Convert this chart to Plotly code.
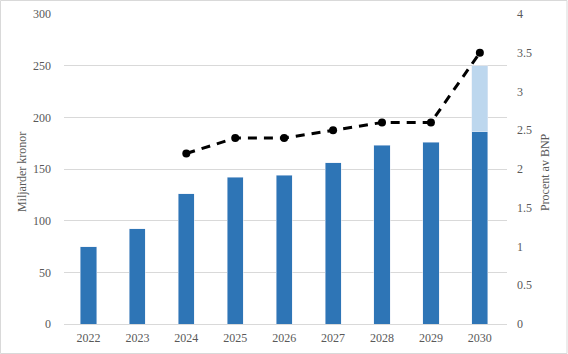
import plotly.graph_objects as go

years = ["2022", "2023", "2024", "2025", "2026", "2027", "2028", "2029", "2030"]
base_values = [75, 92, 126, 142, 144, 156, 173, 176, 186]
extra_values = [None, None, None, None, None, None, None, None, 64]
pct_years = ["2024", "2025", "2026", "2027", "2028", "2029", "2030"]
pct_values = [2.2, 2.4, 2.4, 2.5, 2.6, 2.6, 3.5]

font_family = "Liberation Serif, Times New Roman, serif"
tick_color = "#595959"

fig = go.Figure()
fig.add_trace(go.Bar(x=years, y=base_values, marker_color="#2E75B6", width=0.33,
                     showlegend=False))
fig.add_trace(go.Bar(x=years, y=extra_values, marker_color="#BDD7EE", width=0.33,
                     showlegend=False))
fig.add_trace(go.Scatter(x=pct_years, y=pct_values, yaxis="y2", mode="lines+markers",
                         line=dict(color="black", width=3, dash="9px,7px"),
                         marker=dict(color="black", size=8), showlegend=False))

pw = 443.0
fig.update_layout(
    barmode="stack",
    width=568, height=354,
    margin=dict(l=64, r=61, t=14, b=30),
    paper_bgcolor="white", plot_bgcolor="white",
    font=dict(family=font_family, size=12, color=tick_color),
    xaxis=dict(showgrid=False, ticks="", showline=False, automargin=False,
               ticklabelstandoff=5, tickfont=dict(size=12, color=tick_color)),
    yaxis=dict(range=[0, 300], dtick=50, showgrid=True, gridcolor="#d9d9d9", gridwidth=1,
               zeroline=True, zerolinecolor="#d9d9d9", zerolinewidth=1, automargin=False,
               ticks="", ticklabelstandoff=12),
    yaxis2=dict(range=[0, 4], dtick=0.5, overlaying="y", side="right", showgrid=False,
                zeroline=False, ticks="", ticklabelstandoff=9, automargin=False),
    annotations=[
        dict(text="Miljarder kronor", xref="paper", yref="paper", x=(22 - 64) / pw, y=0.49,
             textangle=-90, showarrow=False, xanchor="center", yanchor="middle",
             font=dict(size=12, color=tick_color)),
        dict(text="Procent av BNP", xref="paper", yref="paper", x=(545 - 64) / pw, y=0.49,
             textangle=-90, showarrow=False, xanchor="center", yanchor="middle",
             font=dict(size=12, color=tick_color)),
    ],
    shapes=[dict(type="rect", xref="paper", yref="paper",
                 x0=-63.5 / pw, x1=1 + 60 / pw, y0=-29.5 / 310, y1=1 + 13.5 / 310,
                 line=dict(color="#d9d9d9", width=1), layer="below")],
)

fig.write_html("out.html")
